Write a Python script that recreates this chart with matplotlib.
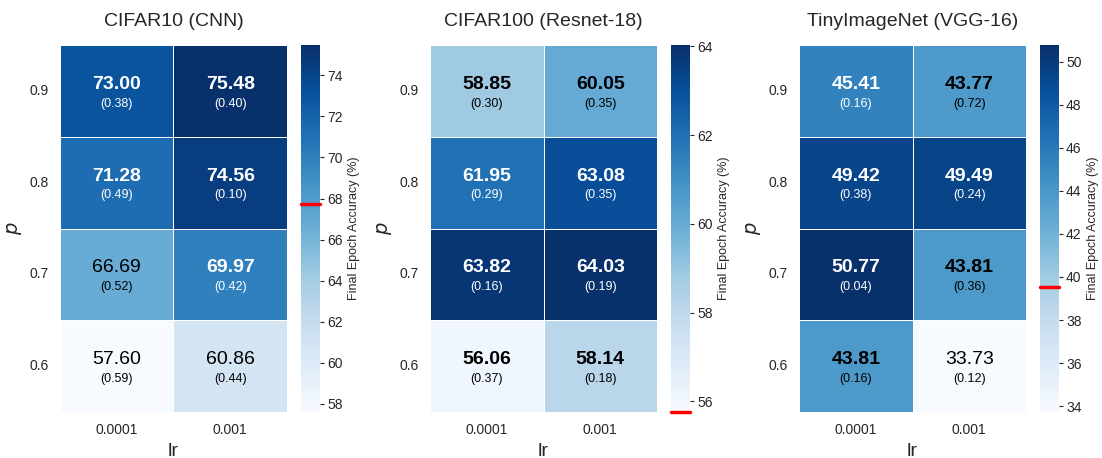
import numpy as np
import matplotlib
matplotlib.use("Agg")
import matplotlib.pyplot as plt
from matplotlib.ticker import MultipleLocator
import seaborn as sns

p_labels = ["0.9", "0.8", "0.7", "0.6"]
lr_labels = ["0.0001", "0.001"]

titles = ["CIFAR10 (CNN)", "CIFAR100 (Resnet-18)", "TinyImageNet (VGG-16)"]

cifar10_mean = [[73.00, 75.48], [71.28, 74.56], [66.69, 69.97], [57.60, 60.86]]
cifar10_std = [[0.38, 0.40], [0.49, 0.10], [0.52, 0.42], [0.59, 0.44]]
cifar10_base = 67.72

cifar100_mean = [[58.85, 60.05], [61.95, 63.08], [63.82, 64.03], [56.06, 58.14]]
cifar100_std = [[0.30, 0.35], [0.29, 0.35], [0.16, 0.19], [0.37, 0.18]]
cifar100_base = 55.76

tiny_mean = [[45.41, 43.77], [49.42, 49.49], [50.77, 43.81], [43.81, 33.73]]
tiny_std = [[0.16, 0.72], [0.38, 0.24], [0.04, 0.36], [0.16, 0.12]]
tiny_base = 39.53

means = [cifar10_mean, cifar100_mean, tiny_mean]
stds = [cifar10_std, cifar100_std, tiny_std]
baselines = [cifar10_base, cifar100_base, tiny_base]

sns.set_style("white")
plt.rcParams['font.family'] = ['Liberation Sans', 'DejaVu Sans']
plt.rcParams['text.color'] = '#262626'
plt.rcParams['axes.labelcolor'] = '#262626'
plt.rcParams['xtick.color'] = '#262626'
plt.rcParams['ytick.color'] = '#262626'

fig = plt.figure(figsize=(11.02, 4.58), dpi=100)
ax_lefts = [60, 430, 799]
cax_lefts = [301, 671, 1040]
cmap = plt.get_cmap("Blues")

for i in range(3):
    data = np.array(means[i])
    err = np.array(stds[i])
    base = baselines[i]
    vmin = min(data.min(), base)
    vmax = data.max()

    ax = fig.add_axes([ax_lefts[i] / 1102, 46 / 458, 227 / 1102, 367 / 458])
    cax = fig.add_axes([cax_lefts[i] / 1102, 46 / 458, 19 / 1102, 367 / 458])
    sns.heatmap(data, ax=ax, cbar_ax=cax, cmap=cmap, vmin=vmin, vmax=vmax,
                linewidths=0.6, linecolor="white",
                xticklabels=lr_labels, yticklabels=p_labels,
                cbar_kws={"label": "Final Epoch Accuracy (%)"})

    norm = plt.Normalize(vmin, vmax)
    for r in range(data.shape[0]):
        for c in range(data.shape[1]):
            # dark cells get white text
            col = "white" if norm(data[r, c]) > 0.64 else "black"
            weight = "bold" if data[r, c] > base else "normal"
            ax.text(c + 0.5, r + 0.43, f"{data[r, c]:.2f}", ha="center", va="center",
                    fontsize=14, fontweight=weight, color=col)
            ax.text(c + 0.5, r + 0.64, f"({err[r, c]:.2f})", ha="center", va="center",
                    fontsize=9, color=col)

    ax.set_title(titles[i], fontsize=14, pad=14)
    ax.set_xlabel("lr", fontsize=14)
    ax.set_ylabel("$p$", fontsize=14)
    ax.tick_params(axis="both", length=0, labelsize=10, pad=8)
    ax.set_yticklabels(p_labels, rotation=0)

    cax.axhline(base, color="red", lw=2.5, clip_on=False)
    cax.yaxis.set_major_locator(MultipleLocator(2))
    cax.tick_params(axis="y", right=True, length=3, width=0.8, labelsize=10, pad=2)
    cax.yaxis.label.set_size(9)

fig.savefig("out.png", dpi=100)
